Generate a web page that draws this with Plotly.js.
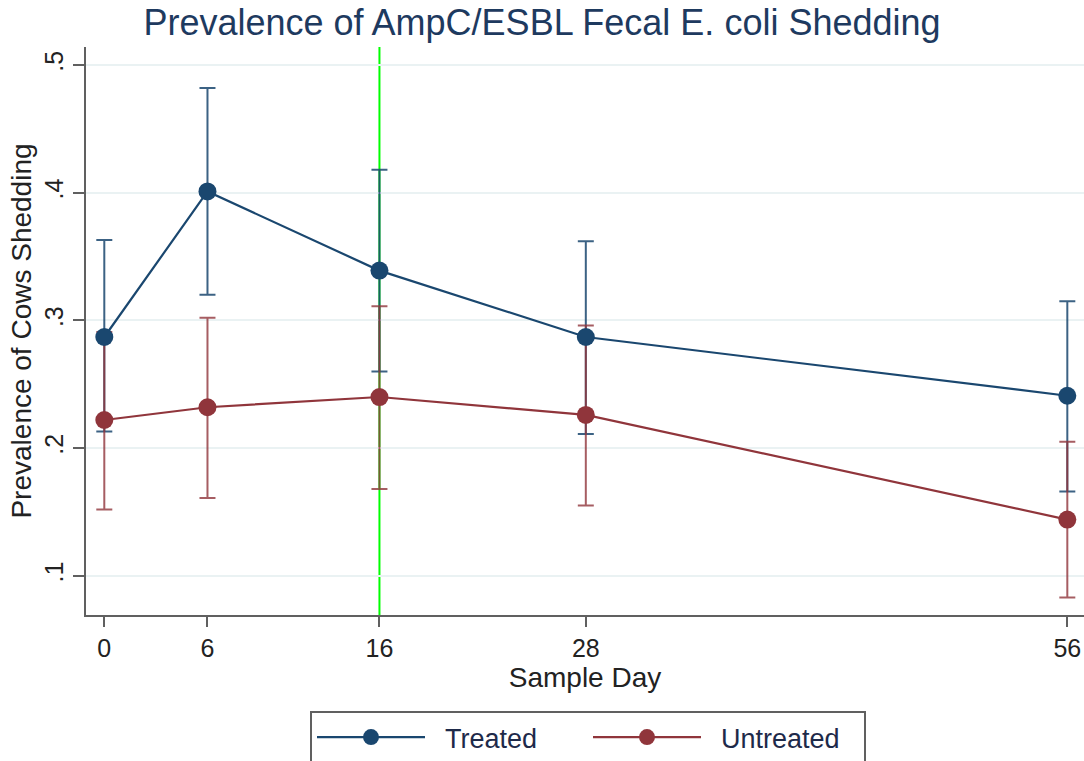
<!DOCTYPE html>
<html>
<head>
<meta charset="utf-8">
<script src="https://cdn.plot.ly/plotly-3.0.1.min.js"></script>
<style>html,body{margin:0;padding:0;background:#fff;}#chart{width:1084px;height:761px;}</style>
</head>
<body>
<div id="chart"></div>
<script>
const days = [0, 6, 16, 28, 56];
const dayLabels = ["0", "6", "16", "28", "56"];
const treated = [0.287, 0.401, 0.339, 0.287, 0.241];
const treatedLo = [0.213, 0.320, 0.260, 0.211, 0.166];
const treatedHi = [0.363, 0.482, 0.418, 0.362, 0.315];
const untreated = [0.222, 0.232, 0.240, 0.226, 0.144];
const untreatedLo = [0.152, 0.161, 0.168, 0.155, 0.083];
const untreatedHi = [0.291, 0.302, 0.311, 0.296, 0.205];
const yTickVals = [0.1, 0.2, 0.3, 0.4, 0.5];
const yTickText = [".1", ".2", ".3", ".4", ".5"];
const markDay = 16;

const navy = "#1a476f";
const maroon = "#90353b";
const FONT = "Liberation Sans, Arial, sans-serif";

function errTrace(y, lo, hi, color) {
  return {
    x: days, y: y, type: "scatter", mode: "markers",
    marker: {size: 1, opacity: 0, color: color},
    showlegend: false, hoverinfo: "skip",
    error_y: {
      type: "data", symmetric: false,
      array: hi.map((v, i) => v - y[i]),
      arrayminus: y.map((v, i) => v - lo[i]),
      color: color, thickness: 2, width: 8
    }
  };
}

const data = [
  errTrace(treated, treatedLo, treatedHi, "rgba(26,71,111,0.85)"),
  errTrace(untreated, untreatedLo, untreatedHi, "rgba(144,53,59,0.8)"),
  {x: days, y: treated, type: "scatter", mode: "lines+markers", name: "\u00a0\u00a0Treated",
   line: {color: navy, width: 2.2}, marker: {color: navy, size: 18}},
  {x: days, y: untreated, type: "scatter", mode: "lines+markers", name: "\u00a0\u00a0Untreated",
   line: {color: maroon, width: 2.2}, marker: {color: maroon, size: 18}}
];

const layout = {
  width: 1084, height: 761,
  margin: {l: 86, r: 0, t: 47, b: 146},
  paper_bgcolor: "#ffffff", plot_bgcolor: "#ffffff",
  font: {family: FONT, color: "#222222"},
  title: {text: "Prevalence of AmpC/ESBL Fecal E. coli Shedding",
          font: {family: FONT, size: 36, color: "#1e3a5f"},
          x: 0.5, xref: "container", xanchor: "center",
          y: 1 - 22/761, yref: "container", yanchor: "middle"},
  xaxis: {
    range: [-1.064, 56.97], tickmode: "array", tickvals: days, ticktext: dayLabels,
    showgrid: false, zeroline: false, showline: true, linecolor: "#606060", linewidth: 2,
    ticks: "outside", ticklen: 10, tickwidth: 2, tickcolor: "#606060",
    tickfont: {size: 25, color: "#222222"},
    title: {text: "Sample Day", font: {size: 28, color: "#222222"}, standoff: 6}
  },
  yaxis: {
    range: [0.0693, 0.5141], tickmode: "array", tickvals: yTickVals, ticktext: yTickText,
    tickangle: -90,
    showgrid: true, gridcolor: "#eaf2f3", gridwidth: 2,
    zeroline: false, showline: true, linecolor: "#606060", linewidth: 2,
    ticks: "outside", ticklen: 11, tickwidth: 2, tickcolor: "#606060",
    tickfont: {size: 25, color: "#222222"},
    title: {text: "Prevalence of Cows Shedding", font: {size: 28, color: "#222222"}, standoff: 0}
  },
  shapes: [{type: "line", xref: "x", yref: "paper", x0: markDay, x1: markDay, y0: 0, y1: 1,
            line: {color: "#00ff00", width: 2}, layer: "below"}],
  showlegend: true,
  legend: {
    orientation: "h", xref: "container", yref: "container",
    x: 310/1084, xanchor: "left", y: 1 - 711/761, yanchor: "top",
    bordercolor: "#606060", borderwidth: 2, bgcolor: "#ffffff",
    font: {size: 27, color: "#1e2a4a"},
    itemwidth: 108, entrywidth: 153, traceorder: "normal"
  }
};

Plotly.newPlot("chart", data, layout, {displayModeBar: false, staticPlot: true});
</script>
</body>
</html>
